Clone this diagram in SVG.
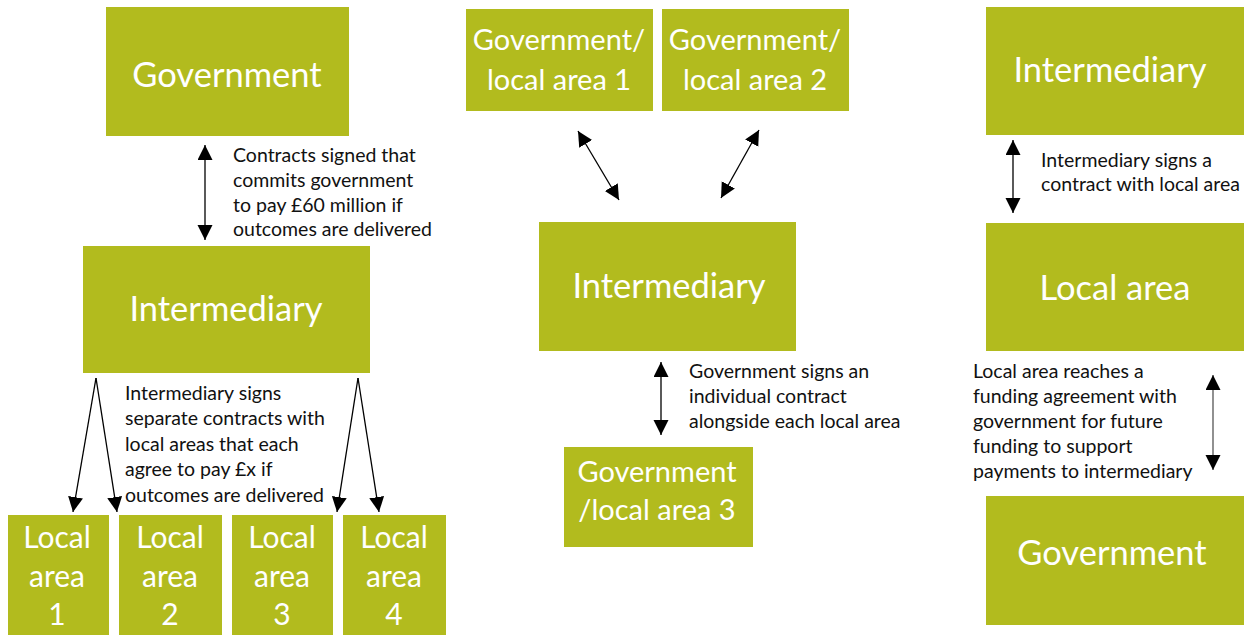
<svg xmlns="http://www.w3.org/2000/svg" width="1244" height="635" viewBox="0 0 1244 635">
<style>
.box{fill:#b2bb1e}
.bt{fill:#ffffff;font-family:Lato,"Open Sans",sans-serif;text-anchor:middle}
.big{font-size:34.5px}
.mid{font-size:29px}
.loc{font-size:30px}
.lbl{fill:#111111;font-family:Lato,"Open Sans",sans-serif;font-size:19.5px}
.ar{stroke:#000000;stroke-width:1.3;fill:none}
</style>
<defs>
<marker id="ah" markerUnits="userSpaceOnUse" markerWidth="16" markerHeight="16" refX="15" refY="7.5" orient="auto-start-reverse" viewBox="0 0 16 16">
<path d="M0,0 L15,7.5 L0,15 z" fill="#000000"/>
</marker>
</defs>
<rect width="1244" height="635" fill="#ffffff"/>

<!-- Left column -->
<g id="gov-left">
<rect class="box" x="106" y="7" width="243" height="129"/>
<text class="bt big" x="227" y="87">Government</text>
</g>
<g id="inter-left">
<rect class="box" x="83" y="246" width="287" height="127"/>
<text class="bt big" x="226" y="321">Intermediary</text>
</g>
<g id="local1">
<rect class="box" x="8" y="515" width="101" height="120"/>
<text class="bt loc" x="57" y="548">Local</text>
<text class="bt loc" x="57" y="587">area</text>
<text class="bt loc" x="57" y="625">1</text>
</g>
<g id="local2">
<rect class="box" x="119" y="515" width="103" height="120"/>
<text class="bt loc" x="170" y="548">Local</text>
<text class="bt loc" x="170" y="587">area</text>
<text class="bt loc" x="170" y="625">2</text>
</g>
<g id="local3">
<rect class="box" x="232" y="515" width="101" height="120"/>
<text class="bt loc" x="282" y="548">Local</text>
<text class="bt loc" x="282" y="587">area</text>
<text class="bt loc" x="282" y="625">3</text>
</g>
<g id="local4">
<rect class="box" x="343" y="515" width="103" height="120"/>
<text class="bt loc" x="394" y="548">Local</text>
<text class="bt loc" x="394" y="587">area</text>
<text class="bt loc" x="394" y="625">4</text>
</g>
<g id="label-left-1">
<text class="lbl" x="233" y="162">Contracts signed that</text>
<text class="lbl" x="233" y="187">commits government</text>
<text class="lbl" x="233" y="212">to pay £60 million if</text>
<text class="lbl" x="233" y="236">outcomes are delivered</text>
</g>
<g id="label-left-2">
<text class="lbl" x="125" y="400">Intermediary signs</text>
<text class="lbl" x="125" y="425">separate contracts with</text>
<text class="lbl" x="125" y="451">local areas that each</text>
<text class="lbl" x="125" y="476">agree to pay £x if</text>
<text class="lbl" x="125" y="502">outcomes are delivered</text>
</g>

<!-- Middle column -->
<g id="govla1">
<rect class="box" x="466" y="9" width="187" height="102"/>
<text class="bt mid" x="559" y="50">Government/</text>
<text class="bt mid" x="559" y="90">local area 1</text>
</g>
<g id="govla2">
<rect class="box" x="662" y="9" width="187" height="102"/>
<text class="bt mid" x="755" y="50">Government/</text>
<text class="bt mid" x="755" y="90">local area 2</text>
</g>
<g id="inter-mid">
<rect class="box" x="539" y="222" width="257" height="129"/>
<text class="bt big" x="669" y="298">Intermediary</text>
</g>
<g id="govla3">
<rect class="box" x="564" y="447" width="189" height="100"/>
<text class="bt mid" x="657" y="482">Government</text>
<text class="bt mid" x="657" y="520">/local area 3</text>
</g>
<g id="label-mid">
<text class="lbl" x="689" y="378">Government signs an</text>
<text class="lbl" x="689" y="403">individual contract</text>
<text class="lbl" x="689" y="428">alongside each local area</text>
</g>

<!-- Right column -->
<g id="inter-right">
<rect class="box" x="986" y="7" width="258" height="128"/>
<text class="bt big" x="1110" y="82">Intermediary</text>
</g>
<g id="local-right">
<rect class="box" x="986" y="223" width="258" height="128"/>
<text class="bt big" x="1115" y="300">Local area</text>
</g>
<g id="gov-right">
<rect class="box" x="986" y="496" width="258" height="129"/>
<text class="bt big" x="1112" y="565">Government</text>
</g>
<g id="label-right-1">
<text class="lbl" x="1041" y="167">Intermediary signs a</text>
<text class="lbl" x="1041" y="191">contract with local area</text>
</g>
<g id="label-right-2">
<text class="lbl" x="973" y="378">Local area reaches a</text>
<text class="lbl" x="973" y="403">funding agreement with</text>
<text class="lbl" x="973" y="428">government for future</text>
<text class="lbl" x="973" y="453">funding to support</text>
<text class="lbl" x="973" y="478">payments to intermediary</text>
</g>

<g id="connectors">
<line class="ar" x1="205" y1="145" x2="205" y2="240" marker-start="url(#ah)" marker-end="url(#ah)"/>
<line class="ar" x1="96" y1="378" x2="73" y2="512" marker-end="url(#ah)"/>
<line class="ar" x1="96" y1="378" x2="117" y2="512" marker-end="url(#ah)"/>
<line class="ar" x1="358" y1="378" x2="337" y2="512" marker-end="url(#ah)"/>
<line class="ar" x1="358" y1="378" x2="379" y2="512" marker-end="url(#ah)"/>
<line class="ar" x1="578" y1="131" x2="619" y2="200" marker-start="url(#ah)" marker-end="url(#ah)"/>
<line class="ar" x1="759" y1="130" x2="721" y2="198" marker-start="url(#ah)" marker-end="url(#ah)"/>
<line class="ar" x1="661" y1="362" x2="661" y2="435" marker-start="url(#ah)" marker-end="url(#ah)"/>
<line class="ar" x1="1013" y1="140" x2="1013" y2="213" marker-start="url(#ah)" marker-end="url(#ah)"/>
<line class="ar" x1="1213" y1="375" x2="1213" y2="470" style="stroke:#555555" marker-start="url(#ah)" marker-end="url(#ah)"/>
</g>
</svg>
